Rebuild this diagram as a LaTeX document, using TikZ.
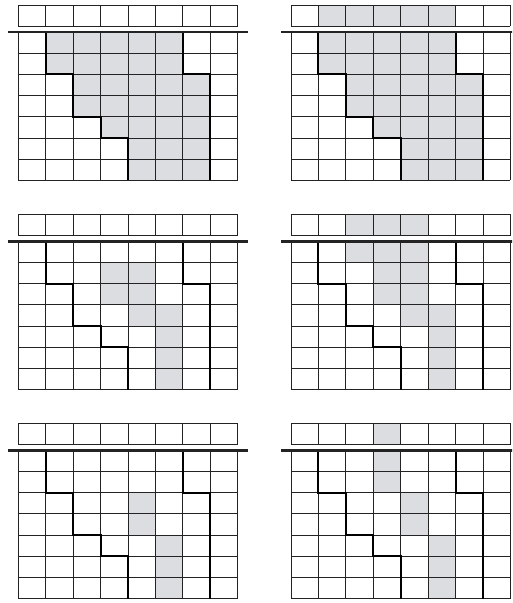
\documentclass[tikz,border=0pt]{standalone}
\definecolor{cellfill}{RGB}{220,221,224}
\definecolor{gridline}{RGB}{35,35,35}
\tikzset{
  gridln/.style={draw=gridline, line width=1pt},
  stairln/.style={draw=black, line width=1.9pt, line join=miter},
  sepln/.style={draw=gridline, line width=2.4pt},
  shadecell/.style={fill=cellfill}
}
\def\mt{1.2736}
% #1 x0 (px), #2 y0 (px), #3 list of yoffset/startcol/endcol for shaded runs
\newcommand{\gridpanel}[3]{%
  \begin{scope}[shift={(#1pt,-#2pt)}, x=27.43pt, y=-21.2pt]
    \foreach \yy/\ss/\ee in {#3} {\fill[shadecell] (\ss,\yy) rectangle (\ee+1,\yy+1);}
    \foreach \i in {0,...,8} {\draw[gridln] (\i,0) -- (\i,1);}
    \foreach \j in {0,1} {\draw[gridln] (0,\j) -- (8,\j);}
    \foreach \i in {0,...,8} {\draw[gridln] (\i,\mt) -- (\i,\mt+7);}
    \foreach \j in {0,...,7} {\draw[gridln] (0,\mt+\j) -- (8,\mt+\j);}
    \draw[stairln] (1,\mt) -- (1,\mt+2) -- (2,\mt+2) -- (2,\mt+4) -- (3,\mt+4) -- (3,\mt+5) -- (4,\mt+5) -- (4,\mt+7);
    \draw[stairln] (6,\mt) -- (6,\mt+2) -- (7,\mt+2) -- (7,\mt+7);
    \draw[sepln] (-0.365,\mt) -- (8.365,\mt);
  \end{scope}}
\begin{document}
\begin{tikzpicture}[x=1pt,y=-1pt]
  \useasboundingbox (0,0) rectangle (512,603);
  \clip (0,0) rectangle (512,603);
  \fill[white] (0,0) rectangle (512,603);
  % panel 1
  \gridpanel{18.3}{5}{\mt+0/1/5, \mt+1/1/5, \mt+2/2/6, \mt+3/2/6, \mt+4/3/6, \mt+5/4/6, \mt+6/4/6}
  % panel 2
  \gridpanel{291}{5}{0/1/5, \mt+0/1/5, \mt+1/1/5, \mt+2/2/6, \mt+3/2/6, \mt+4/3/6, \mt+5/4/6, \mt+6/4/6}
  % panel 3
  \gridpanel{18.3}{214.3}{\mt+1/3/4, \mt+2/3/4, \mt+3/4/5, \mt+4/5/5, \mt+5/5/5, \mt+6/5/5}
  % panel 4
  \gridpanel{291}{214.3}{0/2/4, \mt+0/2/4, \mt+1/3/4, \mt+2/3/4, \mt+3/4/5, \mt+4/5/5, \mt+5/5/5, \mt+6/5/5}
  % panel 5
  \gridpanel{18.3}{423.3}{\mt+2/4/4, \mt+3/4/4, \mt+4/5/5, \mt+5/5/5, \mt+6/5/5}
  % panel 6
  \gridpanel{291}{423.3}{0/3/3, \mt+0/3/3, \mt+1/3/3, \mt+2/4/4, \mt+3/4/4, \mt+4/5/5, \mt+5/5/5, \mt+6/5/5}
\end{tikzpicture}
\end{document}
